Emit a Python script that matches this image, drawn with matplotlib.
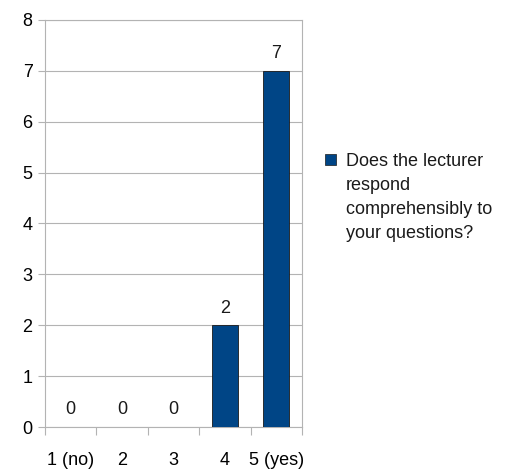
import numpy as np
import matplotlib
matplotlib.use('Agg')
import matplotlib.pyplot as plt
import matplotlib.patches as mpatch

plt.rcParams['font.family'] = ['Liberation Sans', 'DejaVu Sans']

categories = ['1 (no)', '2', '3', '4', '5 (yes)']
counts = [0, 0, 0, 2, 7]
series_name = 'Does the lecturer\nrespond\ncomprehensibly to\nyour questions?'

bar_color = '#004586'
grid_color = '#b3b3b3'
fs = 13

fig = plt.figure(figsize=(5.13, 4.73), dpi=100)
ax = fig.add_axes([45 / 513, 1 - 427 / 473, 257 / 513, 407 / 473])

x = np.arange(len(categories))
ax.bar(x, counts, width=0.5, color=bar_color, edgecolor='#1a1a1a', lw=0.6, zorder=3)
for xi, v in zip(x, counts):
    ax.text(xi, v + 0.17, str(v), ha='center', va='bottom', fontsize=fs, color='#1a1a1a')

ax.set_xlim(-0.5, len(categories) - 0.5)
ax.set_ylim(0, 8)
ax.set_yticks(range(0, 9))
ax.tick_params(axis='y', length=5, color=grid_color, labelsize=fs, pad=4)
ax.yaxis.grid(True, color=grid_color, lw=0.8, zorder=0)

# tick marks at category boundaries, labels at centres
ax.set_xticks(np.arange(-0.5, len(categories), 1.0))
ax.set_xticklabels([])
ax.set_xticks(x, minor=True)
ax.set_xticklabels(categories, minor=True)
ax.tick_params(axis='x', which='major', length=6, color=grid_color)
ax.tick_params(axis='x', which='minor', length=0, labelsize=fs, pad=18)

for s in ax.spines.values():
    s.set_color(grid_color)
    s.set_linewidth(0.8)

# legend
fig.patches.append(mpatch.Rectangle((325 / 513, 1 - 165 / 473), 11 / 513, 11 / 473,
                                    transform=fig.transFigure, facecolor=bar_color,
                                    edgecolor='#1a1a1a', lw=0.5))
fig.text(346 / 513, 1 - 153 / 473, series_name, ha='left', va='top', fontsize=fs,
         linespacing=1.55, color='#1a1a1a')

fig.savefig('out.png', dpi=100)
